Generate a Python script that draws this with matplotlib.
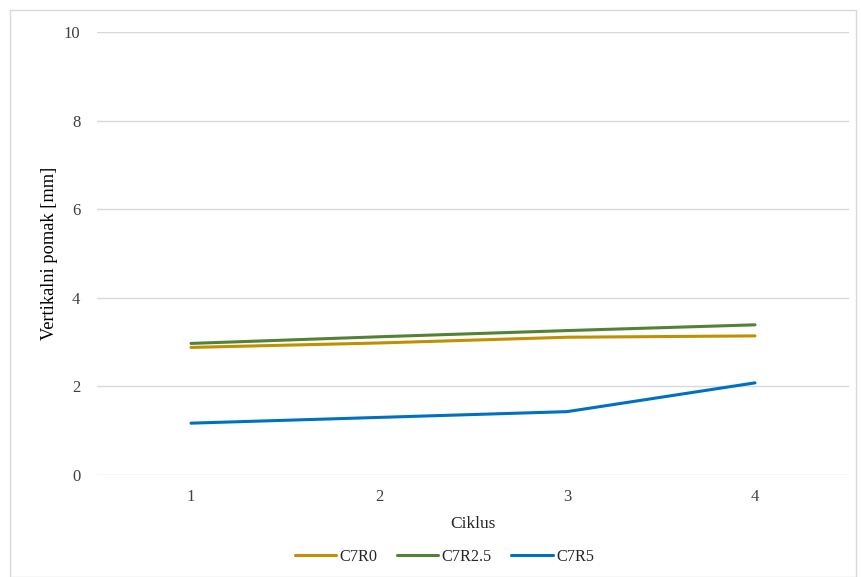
import matplotlib.pyplot as plt
from matplotlib.patches import Rectangle

ciklus = [1, 2, 3, 4]
c7r0 = [2.88, 2.98, 3.11, 3.14]
c7r25 = [2.97, 3.12, 3.26, 3.39]
c7r5 = [1.17, 1.30, 1.43, 2.08]

plt.rcParams['font.family'] = ['Liberation Serif', 'DejaVu Serif']

fig = plt.figure(figsize=(8.62, 5.77), dpi=100)
ax = fig.add_axes([97 / 862, 1 - 475 / 577, (849 - 97) / 862, (475 - 32) / 577])

ax.plot(ciklus, c7r0, color='#BF9000', lw=2.2, label='C7R0', solid_capstyle='round')
ax.plot(ciklus, c7r25, color='#548235', lw=2.2, label='C7R2.5', solid_capstyle='round')
ax.plot(ciklus, c7r5, color='#0070C0', lw=2.2, label='C7R5', solid_capstyle='round')

ax.set_xlim(0.5, 4.5)
ax.set_ylim(0, 10)
ax.set_xticks(ciklus)
ax.set_yticks(range(0, 11, 2))
ax.grid(axis='y', color='#d9d9d9', lw=1)
ax.set_axisbelow(True)
for s in ax.spines.values():
    s.set_visible(False)
ax.tick_params(length=0, labelsize=12, colors='#404040', pad=12)
ax.tick_params(axis='x', pad=10)

ax.set_xlabel('Ciklus', fontsize=12.5, color='#262626', labelpad=8)
ax.set_ylabel('Vertikalni pomak [mm]', fontsize=13.2, color='#000000', labelpad=4)

ax.legend(loc='center', bbox_to_anchor=(0.462, -0.185), ncol=3, frameon=False,
          fontsize=11.7, handlelength=2.55, columnspacing=1.2, handletextpad=0.2,
          labelcolor='#262626')

fig.patches.append(Rectangle((10 / 862, 0), 846 / 862, 1 - 10 / 577, transform=fig.transFigure,
                             fill=False, edgecolor='#d9d9d9', lw=1))

fig.savefig('out.png', dpi=100)
